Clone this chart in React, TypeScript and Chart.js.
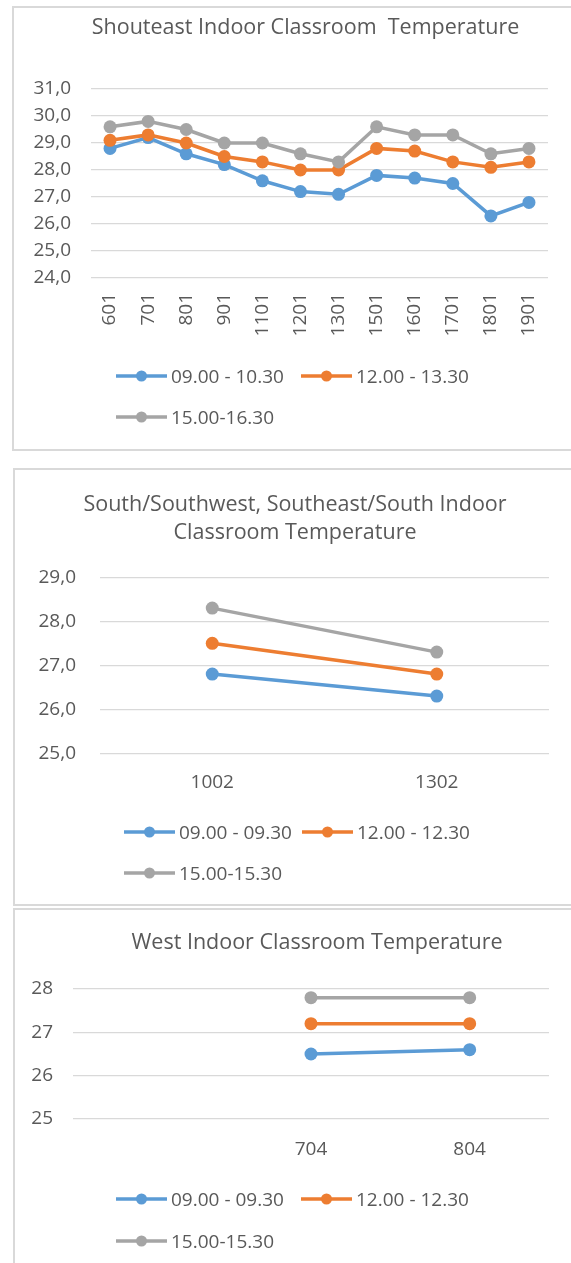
import React, { useEffect, useRef } from 'react';
import { Chart, registerables } from 'chart.js';

Chart.register(...registerables);

const FONT = '"Open Sans", "Noto Sans", sans-serif';
const TEXT = '#595959';
const GRID = '#d9d9d9';
const BLUE = '#5B9BD5';
const ORANGE = '#ED7D31';
const GRAY = '#A5A5A5';

// ---- Chart 1: Southeast ----
const seRooms = ['601', '701', '801', '901', '1101', '1201', '1301', '1501', '1601', '1701', '1801', '1901'];
const se0900 = [28.8, 29.2, 28.6, 28.2, 27.6, 27.2, 27.1, 27.8, 27.7, 27.5, 26.3, 26.8];
const se1200 = [29.1, 29.3, 29.0, 28.5, 28.3, 28.0, 28.0, 28.8, 28.7, 28.3, 28.1, 28.3];
const se1500 = [29.6, 29.8, 29.5, 29.0, 29.0, 28.6, 28.3, 29.6, 29.3, 29.3, 28.6, 28.8];
const seSeries = ['09.00 - 10.30', '12.00 - 13.30', '15.00-16.30'];
const seYRange = [24, 31];

// ---- Chart 2: South/Southwest, Southeast/South ----
const ssRooms = ['1002', '1302'];
const ss0900 = [26.8, 26.3];
const ss1200 = [27.5, 26.8];
const ss1500 = [28.3, 27.3];
const ssSeries = ['09.00 - 09.30', '12.00 - 12.30', '15.00-15.30'];
const ssYRange = [25, 29];

// ---- Chart 3: West ----
const wRooms = ['', '704', '804'];
const w0900 = [null, 26.5, 26.6];
const w1200 = [null, 27.2, 27.2];
const w1500 = [null, 27.8, 27.8];
const wSeries = ['09.00 - 09.30', '12.00 - 12.30', '15.00-15.30'];
const wYRange = [25, 28];

const COLORS = [BLUE, ORANGE, GRAY];

type Spec = {
  left: number; top: number; width: number; height: number;
  title: string | string[]; titleLH: number; titlePadTop: number; titlePadBottom: number; titleCenter: number;
  labels: string[]; series: string[]; values: (number | null)[][];
  yRange: number[]; yFmt: (v: number) => string;
  padRight: number; yW: number; yPad: number; xH: number; xPad: number; rotate: boolean;
};

function buildConfig(s: Spec): any {
  return {
    type: 'line',
    data: {
      labels: s.labels,
      datasets: s.series.map((name, i) => ({
        label: name,
        data: s.values[i],
        borderColor: COLORS[i],
        backgroundColor: COLORS[i],
        pointBackgroundColor: COLORS[i],
        pointBorderColor: COLORS[i],
        pointBorderWidth: 0,
        pointRadius: 6.5,
        borderWidth: 3.5,
        tension: 0,
        fill: false,
        order: 3 - i,
      })),
    },
    plugins: [
      {
        id: 'titlePos',
        afterLayout(chart: any) {
          const t = chart.titleBlock;
          if (t) {
            t.left = s.titleCenter - 300;
            t.right = s.titleCenter + 300;
          }
        },
      },
    ],
    options: {
      responsive: false,
      animation: false,
      layout: { padding: { left: 0, right: s.padRight, top: 0, bottom: 0 } },
      plugins: {
        legend: { display: false },
        tooltip: { enabled: false },
        title: {
          display: true,
          text: s.title,
          color: TEXT,
          font: { family: FONT, size: 21.5, weight: 'normal', lineHeight: s.titleLH },
          padding: { top: s.titlePadTop, bottom: s.titlePadBottom },
        },
      },
      scales: {
        x: {
          offset: true,
          grid: { display: false, drawTicks: false, offset: true },
          border: { display: false },
          ticks: {
            color: TEXT,
            font: { family: FONT, size: 19 },
            padding: s.xPad,
            autoSkip: false,
            minRotation: s.rotate ? 90 : 0,
            maxRotation: s.rotate ? 90 : 0,
          },
          afterFit: (sc: any) => { sc.height = s.xH; },
        },
        y: {
          min: s.yRange[0],
          max: s.yRange[1],
          grid: { color: GRID, lineWidth: 1.3, drawTicks: false },
          border: { display: false },
          ticks: {
            stepSize: 1,
            color: TEXT,
            font: { family: FONT, size: 19 },
            padding: s.yPad,
            callback: (v: any) => s.yFmt(Number(v)),
          },
          afterFit: (sc: any) => { sc.width = s.yW; },
        },
      },
    },
  };
}

function LineChart({ spec }: { spec: Spec }) {
  const ref = useRef<HTMLCanvasElement>(null);
  useEffect(() => {
    const chart = new Chart(ref.current as HTMLCanvasElement, buildConfig(spec));
    return () => chart.destroy();
  }, []);
  return (
    <canvas
      ref={ref}
      width={spec.width}
      height={spec.height}
      style={{ position: 'absolute', left: spec.left, top: spec.top, width: spec.width, height: spec.height, display: 'block' }}
    />
  );
}

type LegendPos = { x: number; y: number };

function HtmlLegend({ names, pos }: { names: string[]; pos: LegendPos[] }) {
  return (
    <>
      {names.map((n, i) => (
        <div
          key={i}
          style={{
            position: 'absolute', left: pos[i].x, top: pos[i].y - 14, height: 28,
            display: 'flex', alignItems: 'center', whiteSpace: 'nowrap',
            fontFamily: FONT, fontSize: 19, color: TEXT,
          }}
        >
          <svg width={51} height={14} style={{ display: 'block' }}>
            <line x1={0} y1={7} x2={51} y2={7} stroke={COLORS[i]} strokeWidth={3.5} />
            <circle cx={25.5} cy={7} r={5.5} fill={COLORS[i]} />
          </svg>
          <span style={{ marginLeft: 4 }}>{n}</span>
        </div>
      ))}
    </>
  );
}

const fmt1 = (v: number) => v.toFixed(1).replace('.', ',');
const fmt0 = (v: number) => String(v);

const spec1: Spec = {
  left: 13, top: 7, width: 585, height: 443,
  title: 'Shouteast Indoor Classroom  Temperature', titleLH: 1.2, titlePadTop: 8.1, titlePadBottom: 48.1, titleCenter: 292.5,
  labels: seRooms, series: seSeries, values: [se0900, se1200, se1500],
  yRange: seYRange, yFmt: fmt1,
  padRight: 50, yW: 78, yPad: 20, xH: 172, xPad: 15, rotate: true,
};

const spec2: Spec = {
  left: 14, top: 469, width: 562, height: 436,
  title: ['South/Southwest, Southeast/South Indoor', 'Classroom Temperature'], titleLH: 28 / 21.5, titlePadTop: 22, titlePadBottom: 30.3, titleCenter: 281,
  labels: ssRooms, series: ssSeries, values: [ss0900, ss1200, ss1500],
  yRange: ssYRange, yFmt: fmt1,
  padRight: 27, yW: 86, yPad: 24, xH: 151.7, xPad: 18.3, rotate: false,
};

const spec3: Spec = {
  left: 14, top: 909, width: 606, height: 380,
  title: 'West Indoor Classroom Temperature', titleLH: 1.2, titlePadTop: 21.1, titlePadBottom: 33.1, titleCenter: 303,
  labels: wRooms, series: wSeries, values: [w0900, w1200, w1500],
  yRange: wYRange, yFmt: fmt0,
  padRight: 71, yW: 59, yPad: 20, xH: 170, xPad: 19.6, rotate: false,
};

const frameStyle = (left: number, top: number, height: number): React.CSSProperties => ({
  position: 'absolute', left, top, width: 700, height, boxSizing: 'border-box',
  border: '2px solid #d9d9d9', background: '#fff',
});

export default function App() {
  return (
    <div style={{ position: 'absolute', left: 0, top: 0, width: 571, height: 1263, overflow: 'hidden', background: '#fff' }}>
      <div style={frameStyle(12, 6, 445)} />
      <div style={frameStyle(13, 468, 438)} />
      <div style={frameStyle(13, 908, 420)} />
      <LineChart spec={spec1} />
      <LineChart spec={spec2} />
      <LineChart spec={spec3} />
      <HtmlLegend names={seSeries} pos={[{ x: 116, y: 376 }, { x: 301, y: 376 }, { x: 116, y: 417 }]} />
      <HtmlLegend names={ssSeries} pos={[{ x: 124, y: 832 }, { x: 302, y: 832 }, { x: 124, y: 873 }]} />
      <HtmlLegend names={wSeries} pos={[{ x: 116, y: 1199 }, { x: 301, y: 1199 }, { x: 116, y: 1241 }]} />
    </div>
  );
}
